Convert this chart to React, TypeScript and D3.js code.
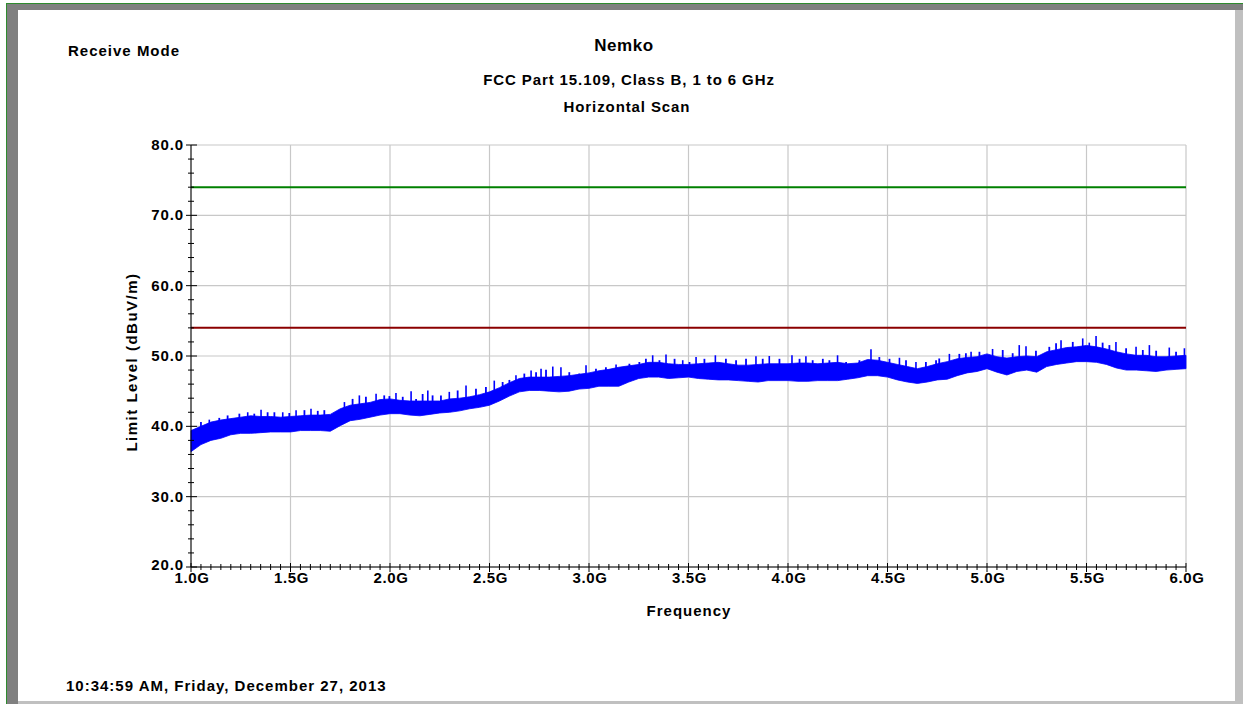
import React from 'react'
import * as d3 from 'd3'

// frequency grid of the envelope readings (GHz)
const freqStart = 1.0
const freqStep = 0.05

// upper edge of the dense trace, read every 50 MHz (dBuV/m)
const hiVals = [
  39.4, 40.0, 40.6, 40.9, 41.1, 41.3, 41.5, 41.4, 41.4, 41.3,
  41.4, 41.5, 41.6, 41.6, 41.7, 42.5, 43.0, 43.2, 43.4, 43.8,
  43.9, 43.7, 43.6, 43.6, 43.6, 43.6, 43.9, 44.0, 44.2, 44.5,
  44.9, 45.5, 46.2, 46.8, 47.0, 47.0, 47.0, 47.1, 47.2, 47.4,
  47.6, 47.9, 48.1, 48.4, 48.6, 48.8, 49.1, 49.1, 48.9, 48.8,
  48.8, 48.9, 49.0, 49.1, 48.9, 48.7, 48.7, 48.8, 48.9, 48.9,
  48.9, 49.0, 49.0, 48.9, 49.0, 49.1, 48.9, 49.0, 49.5, 49.4,
  49.1, 48.8, 48.5, 48.2, 48.5, 48.9, 49.2, 49.6, 49.8, 49.9,
  50.3, 49.9, 49.7, 49.9, 50.0, 49.9, 50.6, 50.9, 51.2, 51.3,
  51.5, 51.3, 51.0, 50.6, 50.3, 50.1, 50.1, 49.9, 49.9, 50.0,
  50.1
]

// lower edge of the dense trace
const loVals = [
  36.4, 37.4, 38.0, 38.3, 38.8, 39.0, 39.0, 39.1, 39.2, 39.2,
  39.2, 39.4, 39.4, 39.4, 39.3, 40.1, 40.8, 41.0, 41.3, 41.6,
  41.8, 41.8, 41.6, 41.5, 41.7, 41.9, 42.0, 42.2, 42.5, 42.7,
  43.0, 43.6, 44.3, 44.9, 45.1, 45.1, 45.0, 44.9, 45.0, 45.3,
  45.4, 45.7, 45.7, 45.7, 46.3, 46.8, 47.0, 47.0, 46.8, 46.9,
  47.0, 46.8, 46.7, 46.6, 46.6, 46.5, 46.4, 46.3, 46.5, 46.5,
  46.5, 46.4, 46.4, 46.5, 46.5, 46.5, 46.7, 46.9, 47.2, 47.2,
  47.0, 46.6, 46.3, 46.1, 46.3, 46.6, 46.7, 47.2, 47.6, 47.8,
  48.2, 47.7, 47.3, 47.8, 48.0, 47.7, 48.5, 48.8, 49.0, 49.2,
  49.2, 49.1, 48.8, 48.3, 48.0, 48.0, 47.9, 47.8, 48.0, 48.1,
  48.2
]

// tallest individual peaks sticking out of the band: [GHz, dBuV/m]
const spikes: [number, number][] = [
  [1.092, 40.95], [1.285, 42.0], [1.352, 42.35], [1.461, 42.0], [1.528, 42.3],
  [1.603, 42.5], [1.771, 43.45], [1.846, 44.4], [1.93, 44.65], [2.03, 44.75],
  [2.106, 45.0], [2.19, 45.1], [2.298, 44.9], [2.382, 45.8], [2.524, 46.5],
  [2.633, 47.25], [2.709, 47.95], [2.759, 48.2], [2.818, 48.5], [2.859, 48.4],
  [2.985, 48.7], [3.136, 48.8], [3.32, 50.1], [3.387, 50.2], [3.471, 49.4],
  [3.538, 49.85], [3.635, 50.1], [3.839, 49.95], [3.906, 50.0], [4.02, 50.1],
  [4.09, 49.95], [4.249, 50.1], [4.417, 50.95], [4.56, 49.75], [4.643, 49.15],
  [4.811, 50.3], [4.92, 50.6], [5.028, 51.0], [5.162, 51.55], [5.196, 51.4],
  [5.372, 52.25], [5.481, 52.5], [5.514, 51.9], [5.548, 52.85], [5.648, 52.0],
  [5.749, 51.3], [5.816, 51.55], [5.916, 51.2], [5.992, 51.1]
]

// smaller peaks along the top of the band
const minorSpikes: [number, number][] = [
  [1.05, 40.6], [1.142, 41.2], [1.184, 41.55], [1.243, 41.8], [1.318, 41.8],
  [1.385, 42.0], [1.419, 42.0], [1.494, 41.9], [1.57, 42.3], [1.637, 42.2],
  [1.67, 42.3], [1.812, 43.9], [1.879, 44.2], [1.971, 44.4], [1.997, 44.3],
  [2.064, 44.2], [2.131, 43.9], [2.164, 44.6], [2.214, 44.4], [2.256, 44.4],
  [2.34, 45.1], [2.432, 45.35], [2.482, 45.6], [2.566, 46.3], [2.6, 46.6],
  [2.675, 47.5], [2.734, 47.7], [2.784, 48.05], [2.901, 47.7], [2.951, 47.5],
  [3.035, 48.2], [3.085, 48.4], [3.203, 48.9], [3.253, 49.15], [3.286, 49.6],
  [3.354, 49.4], [3.43, 49.6], [3.505, 49.15], [3.58, 49.6], [3.688, 49.6],
  [3.739, 49.4], [3.789, 49.6], [3.873, 49.6], [3.957, 49.6], [4.058, 49.6],
  [4.124, 49.4], [4.175, 49.6], [4.208, 49.4], [4.292, 49.15], [4.359, 49.4],
  [4.459, 49.85], [4.51, 49.6], [4.593, 49.4], [4.693, 49.15], [4.744, 49.4],
  [4.76, 49.65], [4.861, 50.3], [4.894, 50.4], [4.962, 50.6], [5.079, 50.85],
  [5.129, 50.4], [5.246, 50.75], [5.313, 51.3], [5.347, 51.8], [5.431, 52.0],
  [5.581, 51.9], [5.615, 51.55], [5.699, 51.1], [5.783, 50.85], [5.85, 50.75],
  [5.95, 50.6]
]

const limitPeak = 74
const limitAvg = 54

const xMajor = [1.0, 1.5, 2.0, 2.5, 3.0, 3.5, 4.0, 4.5, 5.0, 5.5, 6.0]
const yMajor = [20, 30, 40, 50, 60, 70, 80]

const titleLines = ['Nemko', 'FCC Part 15.109, Class B, 1 to 6 GHz', 'Horizontal Scan']
const stamp = '10:34:59 AM, Friday, December 27, 2013'

const W = 1243
const H = 704
const plot = { left: 191, right: 1186, top: 145, bottom: 567 }
const font = '"Liberation Sans", Arial, sans-serif'

export default function App() {
  const x = d3.scaleLinear().domain([1, 6]).range([plot.left, plot.right])
  const y = d3.scaleLinear().domain([20, 80]).range([plot.bottom, plot.top])

  const pts = hiVals.map((h, i) => ({ f: freqStart + i * freqStep, hi: h, lo: loVals[i] }))
  const band = d3.area<typeof pts[0]>()
    .x(d => x(d.f))
    .y0(d => y(d.lo))
    .y1(d => y(d.hi))(pts) || ''

  const xMinor = d3.range(1, 6.0001, 0.05)
  const yMinor = d3.range(20, 80.0001, 2)

  const txt = { fontFamily: font, fontWeight: 700, fill: '#000' } as const

  return (
    <svg width={W} height={H} style={{ position: 'absolute', left: 0, top: 0, background: '#fff' }}>
      {/* bevelled frame */}
      <rect x={0} y={0} width={W} height={H} fill="#fff" />
      <rect x={7} y={4} width={11} height={H - 4} fill="#808080" />
      <rect x={7} y={4} width={W - 7} height={6} fill="#808080" />
      <rect x={1235} y={10} width={8} height={H - 10} fill="#c0c0c0" />
      <rect x={18} y={701} width={W - 18} height={3} fill="#c0c0c0" />
      <line x1={6.5} y1={3} x2={6.5} y2={H} stroke="#2e8b2e" strokeWidth={1} />
      <line x1={6} y1={3.5} x2={W} y2={3.5} stroke="#2e8b2e" strokeWidth={1} />

      {/* grid */}
      {xMajor.map(v => (
        <line key={'gx' + v} x1={x(v)} x2={x(v)} y1={plot.top} y2={plot.bottom} stroke="#c8c8c8" strokeWidth={1.2} />
      ))}
      {yMajor.map(v => (
        <line key={'gy' + v} x1={plot.left} x2={plot.right} y1={y(v)} y2={y(v)} stroke="#c8c8c8" strokeWidth={1.2} />
      ))}

      {/* limit lines */}
      <line x1={plot.left} x2={plot.right} y1={y(limitPeak)} y2={y(limitPeak)} stroke="#008000" strokeWidth={2} />
      <line x1={plot.left} x2={plot.right} y1={y(limitAvg)} y2={y(limitAvg)} stroke="#8b0000" strokeWidth={2} />

      {/* measured trace */}
      <path d={band} fill="#0000ff" stroke="#0000ff" strokeWidth={0.8} />
      {minorSpikes.map(([f, v], i) => (
        <line key={'m' + i} x1={x(f)} x2={x(f)} y1={y(v - 1.5)} y2={y(v)} stroke="#0000ff" strokeWidth={1.8} />
      ))}
      {spikes.map(([f, v], i) => (
        <line key={'s' + i} x1={x(f)} x2={x(f)} y1={y(v - 2)} y2={y(v)} stroke="#0000ff" strokeWidth={1.6} />
      ))}

      {/* axes */}
      <line x1={plot.left} x2={plot.left} y1={plot.top} y2={plot.bottom} stroke="#000" />
      <line x1={plot.left} x2={plot.right} y1={plot.bottom} y2={plot.bottom} stroke="#000" />
      {yMinor.map(v => {
        const major = v % 10 === 0
        return (
          <line key={'ty' + v} x1={plot.left - (major ? 5 : 3)} x2={plot.left + (major ? 6 : 3)}
            y1={y(v)} y2={y(v)} stroke="#000" />
        )
      })}
      {xMinor.map((v, i) => {
        const major = i % 10 === 0
        return (
          <line key={'tx' + i} x1={x(v)} x2={x(v)} y1={plot.bottom - (major ? 4 : 3)}
            y2={plot.bottom + (major ? 5 : 3)} stroke="#000" />
        )
      })}
      {yMajor.map(v => (
        <text key={'ly' + v} x={184} y={y(v) + (v === 20 ? 3 : 5)} textAnchor="end" fontSize={15} style={{ ...txt, letterSpacing: 0.9 }}>
          {v.toFixed(1)}
        </text>
      ))}
      {xMajor.map(v => (
        <text key={'lx' + v} x={x(v) + 1} y={583} textAnchor="middle" fontSize={15} style={{ ...txt, letterSpacing: 0.6 }}>
          {v.toFixed(1) + 'G'}
        </text>
      ))}

      {/* titles */}
      <text x={624} y={51} textAnchor="middle" fontSize={17} style={{ ...txt, letterSpacing: 0.6 }}>{titleLines[0]}</text>
      <text x={629} y={85} textAnchor="middle" fontSize={15} style={{ ...txt, letterSpacing: 0.9 }}>{titleLines[1]}</text>
      <text x={627} y={112} textAnchor="middle" fontSize={15} style={{ ...txt, letterSpacing: 0.9 }}>{titleLines[2]}</text>
      <text x={68} y={56} fontSize={15} style={{ ...txt, letterSpacing: 1 }}>Receive Mode</text>
      <text x={689} y={616} textAnchor="middle" fontSize={15} style={{ ...txt, letterSpacing: 1 }}>Frequency</text>
      <text transform="translate(137,362) rotate(-90)" textAnchor="middle" fontSize={15} style={{ ...txt, letterSpacing: 1.5 }}>
        Limit Level (dBuV/m)
      </text>
      <text x={66} y={691} fontSize={15} style={{ ...txt, letterSpacing: 1 }}>{stamp}</text>
    </svg>
  )
}
